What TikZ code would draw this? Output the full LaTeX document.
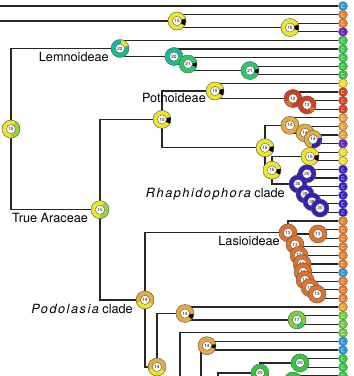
\documentclass[tikz,border=0pt]{standalone}
\usepackage{fontspec}
\setmainfont{TeX Gyre Heros}
\newfontfamily\lsit{TeX Gyre Heros}[LetterSpace=12]
\usetikzlibrary{backgrounds}
\definecolor{yel}{RGB}{238,230,40}
\definecolor{ygr}{RGB}{150,210,60}
\definecolor{teal}{RGB}{20,185,150}
\definecolor{grn}{RGB}{45,200,110}
\definecolor{red}{RGB}{215,60,30}
\definecolor{gold}{RGB}{232,170,60}
\definecolor{vio}{RGB}{55,30,180}
\definecolor{org}{RGB}{225,115,40}
\definecolor{lgr}{RGB}{120,210,60}
\definecolor{g20}{RGB}{50,200,60}
\definecolor{tcy}{RGB}{40,150,220}
\definecolor{tor}{RGB}{235,125,40}
\definecolor{tpu}{RGB}{95,30,190}
\definecolor{tgr}{RGB}{50,200,70}
\definecolor{tye}{RGB}{240,222,40}
\definecolor{tre}{RGB}{220,60,30}
\definecolor{tgo}{RGB}{235,160,50}
\definecolor{tbl}{RGB}{50,30,200}
\definecolor{tlg}{RGB}{110,205,60}
\tikzset{
 edge/.style={draw=black!85, line width=1.35pt},
 rn/.style n args={4}{circle, draw=black!65, line width=0.45pt, fill=#1, minimum size=18pt, inner sep=0pt,
   font=\fontsize{4.6}{5}\selectfont,
   path picture={\fill[#2] (path picture bounding box.center) -- ++(#3:11pt) arc[start angle=#3,end angle=#4,radius=11pt] -- cycle;
     \filldraw[fill=white,draw=black!70,line width=0.35pt] (path picture bounding box.center) circle (4.6pt);}},
 tp/.style={circle, draw=black!60, line width=0.35pt, fill=#1, minimum size=9pt, inner sep=0pt,
   path picture={\draw[white!45!#1, line width=0.8pt] ([shift={(40:1.9pt)}]path picture bounding box.center) arc[start angle=40,end angle=320,radius=1.9pt];}},
 lab/.style={font=\fontsize{12.7}{14}\selectfont, inner sep=0pt},
}
\begin{document}
\begin{tikzpicture}[x=1pt,y=-1pt]
\useasboundingbox (0,0) rectangle (354,376);
% tips
\foreach \i/\c in {0/tcy,1/tor,2/tor,3/tpu,4/tgr,5/tgr,6/tgr,7/tgr,8/tgr,9/tye,10/tre,11/tre,12/tre,13/tgo,14/tgo,15/tgo,16/tpu,17/tye,18/tye,19/tbl,20/tbl,21/tbl,22/tbl,23/tbl,24/tbl,25/tor,26/tor,27/tor,28/tor,29/tor,30/tor,31/tcy,32/tor,33/tor,34/tor,35/tgo,36/tlg,37/tlg,38/tlg,39/tcy,40/tcy,41/tgr,42/tgr,43/tgr}
  \node[tp=\c] (t\i) at (343,{6+8.6*\i}) {};
% free ends
\coordinate (e0) at (0,6);
\coordinate (e1) at (0,21);
\coordinate (oQ) at (157,430);
\coordinate (oA) at (180,430);
\coordinate (oB) at (201,430);
\coordinate (oC) at (218,430);
\coordinate (oD) at (260,430);
\coordinate (oE) at (275,430);
% internal nodes
\node[rn={yel}{black}{-30}{15}] (nA) at (177,21) {15};
\node[rn={yel}{black}{-20}{20}] (nB) at (290,27.5) {15};
\node[rn={teal}{yel}{20}{80}] (nL) at (120,48.5) {22};
\node[rn={teal}{grn}{-60}{0}] (nL2) at (174,56.5) {22};
\node[rn={grn}{black}{-20}{10}] (nL3) at (188,64) {21};
\node[rn={grn}{black}{-20}{10}] (nL4) at (250,70.5) {21};
\node[rn={yel}{ygr}{-90}{60}] (nR) at (11,129.1) {15};
\node[rn={yel}{black}{-30}{15}] (nP) at (215,91) {15};
\node[rn={red}{org}{200}{260}] (nP12a) at (293,98.5) {12};
\node[rn={red}{org}{-60}{-20}] (nP12b) at (307,104.9) {12};
\node[rn={yel}{black}{-30}{15}] (nPp) at (162,119.4) {15};
\node[rn={yel}{ygr}{-90}{60}] (nTA) at (100,209.7) {15};
\node[rn={yel}{black}{-30}{10}] (nM) at (265,147.8) {15};
\node[rn={gold}{gold}{0}{1}] (n14a) at (290,125.3) {14};
\node[rn={gold}{gold}{0}{1}] (n14b) at (305,132.9) {14};
\node[rn={gold}{vio}{-100}{10}] (n14c) at (313,139.3) {14};
\node[rn={yel}{black}{-30}{10}] (nS) at (310,156.5) {15};
\node[rn={yel}{black}{-30}{10}] (nRh) at (272,170.2) {15};
\node[rn={vio}{vio}{0}{1}] (n30a) at (307,173.7) {30};
\node[rn={vio}{vio}{0}{1}] (n30b) at (298,183.9) {30};
\node[rn={vio}{vio}{0}{1}] (n30c) at (305,194.1) {30};
\node[rn={vio}{vio}{0}{1}] (n30d) at (312,201.7) {30};
\node[rn={vio}{vio}{0}{1}] (n30e) at (320,208.1) {30};
\node[rn={org}{org}{0}{1}] (nLa) at (288,232.8) {13};
\node[rn={org}{org}{0}{1}] (nLb) at (318,233.9) {13};
\node[rn={org}{org}{0}{1}] (c1) at (295,244.6) {13};
\node[rn={org}{org}{0}{1}] (c2) at (299,255.3) {13};
\node[rn={org}{org}{0}{1}] (c3) at (302,263.7) {13};
\node[rn={org}{org}{0}{1}] (c4) at (303,272) {13};
\node[rn={org}{org}{0}{1}] (c5) at (305,280.1) {13};
\node[rn={org}{org}{0}{1}] (c6) at (310,287.7) {13};
\node[rn={org}{org}{0}{1}] (c7) at (317,294.1) {13};
\node[rn={gold}{yel}{200}{330}] (nPo) at (145,299.9) {14};
\node[rn={gold}{yel}{200}{330}] (nQ) at (157,367) {14};
\node[rn={gold}{black}{-40}{-5}] (n14x) at (185,313.5) {14};
\node[rn={lgr}{grn}{-90}{-30}] (n17) at (297,319.9) {17};
\node[rn={gold}{black}{-20}{10}] (n14y) at (207,345.7) {14};
\node[rn={g20}{g20}{0}{1}] (n20a) at (300,362.9) {20};
\node[rn={g20}{g20}{0}{1}] (n20b) at (260,373) {20};
\node[rn={g20}{g20}{0}{1}] (n20c) at (293,381) {};
% labels
\node[lab, anchor=base east] (lLem) at (109,61) {Lemnoideae};
\node[lab, anchor=base east] (lPot) at (206,102) {Pothoideae};
\node[lab, anchor=base west] (lTA) at (12,222) {True Araceae};
\node[lab, anchor=base east] (lRh) at (285,197) {{\lsit\itshape Rhaphidophora} clade};
\node[lab, anchor=base east] (lLas) at (280,245) {Lasioideae};
\node[lab, anchor=base east] (lPod) at (133,313) {{\lsit\itshape Podolasia} clade};
% edges
\begin{scope}[on background layer]
\draw[edge] (e0) -- (t0.west);
\draw[edge] (e1) -- (nA.center);
\draw[edge] (nA.center) |- (t1.west);
\draw[edge] (nA.center) |- (nB.center);
\draw[edge] (nB.center) |- (t2.west);
\draw[edge] (nB.center) |- (t3.west);
\draw[edge] (nR.center) |- (nL.center);
\draw[edge] (nR.center) |- (nTA.center);
\draw[edge] (nL.center) |- (t4.west);
\draw[edge] (nL.center) |- (nL2.center);
\draw[edge] (nL2.center) |- (t5.west);
\draw[edge] (nL2.center) |- (nL3.center);
\draw[edge] (nL3.center) |- (t6.west);
\draw[edge] (nL3.center) |- (nL4.center);
\draw[edge] (nL4.center) |- (t7.west);
\draw[edge] (nL4.center) |- (t8.west);
\draw[edge] (nTA.center) |- (nPp.center);
\draw[edge] (nTA.center) |- (nPo.center);
\draw[edge] (nPp.center) |- (nP.center);
\draw[edge] (nPp.center) |- (nM.center);
\draw[edge] (nP.center) |- (t9.west);
\draw[edge] (nP.center) |- (nP12a.center);
\draw[edge] (nP12a.center) |- (t10.west);
\draw[edge] (nP12a.center) |- (nP12b.center);
\draw[edge] (nP12b.center) |- (t11.west);
\draw[edge] (nP12b.center) |- (t12.west);
\draw[edge] (nM.center) |- (n14a.center);
\draw[edge] (nM.center) |- (nRh.center);
\draw[edge] (n14a.center) |- (t13.west);
\draw[edge] (n14a.center) |- (n14b.center);
\draw[edge] (n14b.center) |- (t14.west);
\draw[edge] (n14b.center) |- (n14c.center);
\draw[edge] (n14c.center) |- (t15.west);
\draw[edge] (n14c.center) |- (t16.west);
\draw[edge] (nRh.center) |- (nS.center);
\draw[edge] (nRh.center) |- (n30b.center);
\draw[edge] (nS.center) |- (t17.west);
\draw[edge] (nS.center) |- (t18.west);
\draw[edge] (n30b.center) |- (n30a.center);
\draw[edge] (n30b.center) |- (n30c.center);
\draw[edge] (n30a.center) |- (t19.west);
\draw[edge] (n30a.center) |- (t20.west);
\draw[edge] (n30c.center) |- (t21.west);
\draw[edge] (n30c.center) |- (n30d.center);
\draw[edge] (n30d.center) |- (t22.west);
\draw[edge] (n30d.center) |- (n30e.center);
\draw[edge] (n30e.center) |- (t23.west);
\draw[edge] (n30e.center) |- (t24.west);
\draw[edge] (nPo.center) |- (nLa.center);
\draw[edge] (nPo.center) |- (nQ.center);
\draw[edge] (nLa.center) |- (t25.west);
\draw[edge] (nLa.center) |- (c1.center);
\draw[edge] (c1.center) |- (nLb.center);
\draw[edge] (c1.center) |- (c2.center);
\draw[edge] (nLb.center) |- (t26.west);
\draw[edge] (nLb.center) |- (t27.west);
\draw[edge] (c2.center) |- (t28.west);
\draw[edge] (c2.center) |- (c3.center);
\draw[edge] (c3.center) |- (t29.west);
\draw[edge] (c3.center) |- (c4.center);
\draw[edge] (c4.center) |- (t30.west);
\draw[edge] (c4.center) |- (c5.center);
\draw[edge] (c5.center) |- (t31.west);
\draw[edge] (c5.center) |- (c6.center);
\draw[edge] (c6.center) |- (t32.west);
\draw[edge] (c6.center) |- (c7.center);
\draw[edge] (c7.center) |- (t33.west);
\draw[edge] (c7.center) |- (t34.west);
\draw[edge] (nQ.center) |- (n14x.center);
\draw[edge] (nQ.center) -- (oQ);
\draw[edge] (n14x.center) |- (t35.west);
\draw[edge] (n14x.center) |- (n17.center);
\draw[edge] (n17.center) |- (t36.west);
\draw[edge] (n17.center) |- (t37.west);
\draw[edge] (oA) |- (t38.west);
\draw[edge] (oB) |- (n14y.center);
\draw[edge] (n14y.center) |- (t39.west);
\draw[edge] (n14y.center) |- (t40.west);
\draw[edge] (oC) |- (n20b.center);
\draw[edge] (n20b.center) |- (n20a.center);
\draw[edge] (n20b.center) -- (oD);
\draw[edge] (n20a.center) |- (t41.west);
\draw[edge] (n20a.center) |- (t42.west);
\draw[edge] (oE) |- (n20c.center);
\draw[edge] (n20c.center) |- (t43.west);
\end{scope}
\end{tikzpicture}
\end{document}
